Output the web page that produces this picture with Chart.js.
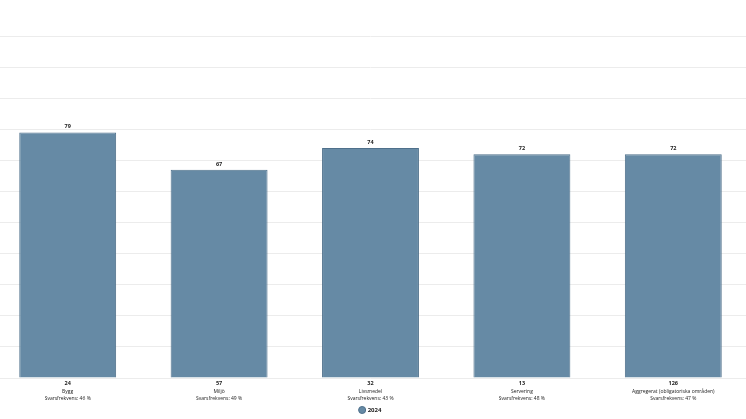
<!DOCTYPE html>
<html>
<head>
<meta charset="utf-8">
<script src="https://cdn.jsdelivr.net/npm/chart.js@4/dist/chart.umd.min.js"></script>
<style>
    html, body { margin: 0; padding: 0; background: #fff; overflow: hidden; }
    #wrap { position: absolute; left: -8px; top: 0; width: 757px; height: 423px; }
</style>
</head>
<body>
<div id="wrap"><canvas id="grafico"></canvas></div>
<script>
// Dados do gráfico
const kategorier = ['Bygg', 'Miljö', 'Livsmedel', 'Servering', 'Aggregerat (obligatoriska områden)'];
const antal = [24, 57, 32, 13, 126];
const svarsfrekvens = [46, 49, 43, 48, 47];
const varden2024 = [79, 67, 74, 72, 72];
const serieNamn = '2024';

const textFarg = '#222';
const fontFamilj = "'Open Sans', 'DejaVu Sans', sans-serif";

// Etiketter under staplarna (namn + svarsfrekvens)
const namnEtiketter = kategorier.map((k, i) => [k, 'Svarsfrekvens: ' + svarsfrekvens[i] + ' %']);

// Plugin som skriver värdet ovanför varje stapel
const stapelVarden = {
    id: 'stapelVarden',
    afterDatasetsDraw(chart) {
        const ctx = chart.ctx;
        ctx.save();
        ctx.font = 'bold 5.5px ' + fontFamilj;
        ctx.fillStyle = textFarg;
        ctx.textAlign = 'center';
        ctx.textBaseline = 'bottom';
        chart.data.datasets.forEach((ds, di) => {
            chart.getDatasetMeta(di).data.forEach((bar, i) => {
                ctx.fillText(ds.data[i], bar.x, bar.y - 3);
            });
        });
        ctx.restore();
    }
};

new Chart(document.getElementById('grafico'), {
    type: 'bar',
    data: {
        labels: namnEtiketter,
        datasets: [{
            label: serieNamn,
            data: varden2024,
            backgroundColor: '#668aa5',
            borderColor: '#4f708b',
            borderWidth: 1,
            barPercentage: 0.64,
            categoryPercentage: 1
        }]
    },
    options: {
        responsive: true,
        maintainAspectRatio: false,
        animation: false,
        layout: { padding: { top: 36, left: 0, right: 0, bottom: 0 } },
        plugins: {
            legend: {
                position: 'bottom',
                labels: {
                    usePointStyle: true,
                    pointStyle: 'circle',
                    boxWidth: 5,
                    boxHeight: 5,
                    padding: 3,
                    color: textFarg,
                    font: { family: fontFamilj, size: 6, weight: 'bold' }
                }
            },
            tooltip: { enabled: false }
        },
        scales: {
            y: {
                min: 0,
                max: 110,
                ticks: { display: false, stepSize: 10 },
                grid: { color: '#ececec', drawTicks: false },
                border: { display: false }
            },
            x: {
                weight: 1,
                afterFit: (axis) => { axis.height = 18; },
                ticks: {
                    color: textFarg,
                    font: { family: fontFamilj, size: 5, lineHeight: 1.4 },
                    padding: 2,
                    maxRotation: 0,
                    autoSkip: false
                },
                grid: { display: false, drawTicks: false, tickLength: 0 },
                border: { display: false }
            },
            xAntal: {
                type: 'category',
                position: 'bottom',
                weight: 0,
                labels: antal.map(String),
                afterFit: (axis) => { axis.height = 8; },
                ticks: {
                    color: textFarg,
                    font: { family: fontFamilj, size: 5.5, weight: 'bold' },
                    padding: 2,
                    maxRotation: 0
                },
                grid: { display: false, drawTicks: false, tickLength: 0 },
                border: { display: false }
            }
        }
    },
    plugins: [stapelVarden]
});
</script>
</body>
</html>
